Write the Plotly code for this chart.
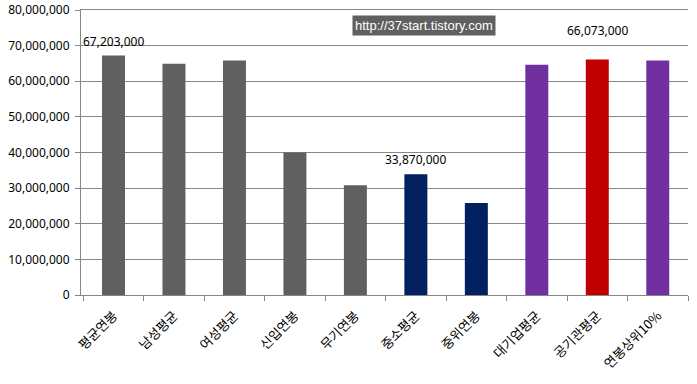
import plotly.graph_objects as go

categories = ["평균연봉", "남성평균", "여성평균", "신입연봉", "무기연봉", "중소평균", "중위연봉", "대기업평균", "공기관평균", "연봉상위10%"]
values = [67203000, 64900000, 65800000, 40000000, 30800000, 33870000, 25800000, 64600000, 66073000, 65800000]
colors = ["#606060"] * 5 + ["#002060", "#002060", "#7030A0", "#C00000", "#7030A0"]
labeled = {0: 14, 5: 15, 8: 29}
ytick_vals = list(range(0, 80000001, 10000000))
ytick_text = ["0"] + [f"{v:,}" for v in ytick_vals[1:]]

fig = go.Figure()
fig.add_trace(go.Bar(x=categories, y=values, marker=dict(color=colors, line=dict(width=0)), width=0.38))

for i, shift in labeled.items():
    fig.add_annotation(x=categories[i], y=values[i], text=f"{values[i]:,}", showarrow=False,
                       yshift=shift, yanchor="middle",
                       font=dict(family="Noto Sans, sans-serif", size=12, color="#000000"))

fig.add_annotation(xref="paper", yref="paper", x=0.446, y=0.947, xanchor="left", yanchor="middle",
                   text="http://37start.tistory.com", showarrow=False, bgcolor="#606060",
                   font=dict(family="Liberation Sans, Arial, sans-serif", size=13, color="#ffffff"), borderpad=2)

fig.update_layout(
    width=697, height=384,
    margin=dict(l=81, r=9, t=10, b=89),
    plot_bgcolor="#ffffff", paper_bgcolor="#ffffff",
    showlegend=False,
    font=dict(family="Noto Sans CJK KR, sans-serif", size=12, color="#000000"),
)
fig.update_yaxes(range=[0, 80000000], tickvals=ytick_vals, ticktext=ytick_text, automargin=False,
                 showgrid=True, gridcolor="#868686", gridwidth=1, ticklabelstandoff=3,
                 showline=True, linecolor="#868686", ticks="outside", ticklen=5, tickcolor="#868686",
                 zeroline=False, tickfont=dict(family="Noto Sans, sans-serif", size=12, color="#000000"))
fig.update_xaxes(tickangle=-45, showline=True, mirror=True, linecolor="#868686", ticks="outside", ticklen=5,
                 automargin=False, tickcolor="#868686", tickson="boundaries", showgrid=False, ticklabelstandoff=7,
                 tickfont=dict(family="Noto Sans CJK KR, sans-serif", size=13, color="#000000"))

fig.write_html("out.html", config={"displayModeBar": False},
               post_script="document.body.style.margin='0';")
